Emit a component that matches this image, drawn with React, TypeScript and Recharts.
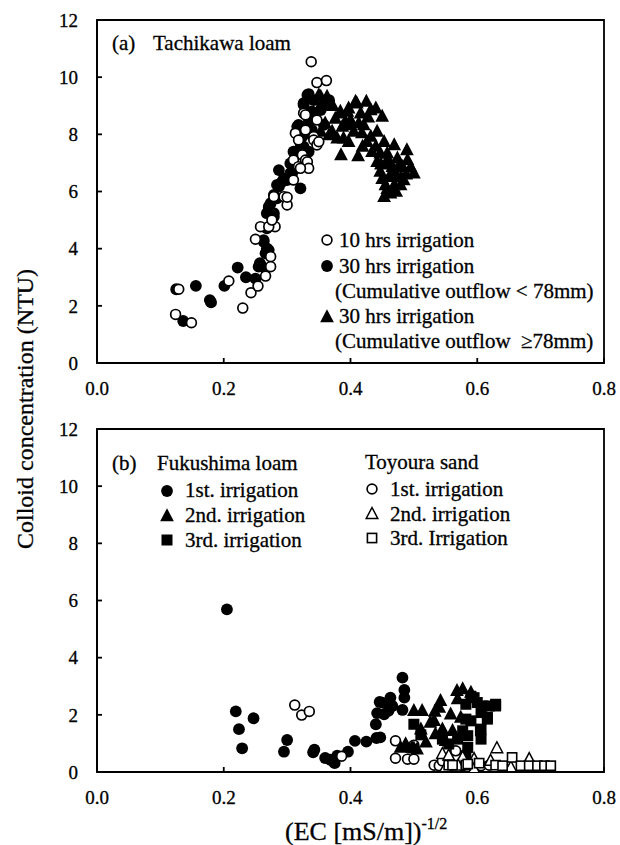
import React from 'react';
import { ScatterChart, Scatter, XAxis, YAxis, ReferenceArea } from 'recharts';

const xTicks = [0, 0.2, 0.4, 0.6, 0.8];
const yTicks = [0, 2, 4, 6, 8, 10, 12];

// Panel (a) Tachikawa loam
const tachikawa10h: number[][] = [
  [0.124,1.70],[0.129,2.58],[0.149,1.41],[0.208,2.87],[0.230,1.92],[0.243,2.46],[0.254,2.69],[0.266,3.04],
  [0.250,4.33],[0.274,3.72],[0.274,3.37],[0.258,4.77],[0.281,4.77],[0.271,4.77],[0.276,5.00],[0.279,5.82],
  [0.295,5.82],[0.300,5.53],[0.310,6.40],[0.310,7.10],[0.318,6.87],[0.324,7.28],[0.329,7.10],[0.332,7.04],
  [0.334,6.81],[0.321,6.81],[0.313,8.04],[0.318,7.80],[0.329,8.15],[0.342,7.92],[0.342,7.80],[0.347,7.63],
  [0.326,8.74],[0.329,8.68],[0.338,10.54],[0.347,9.81],[0.362,9.88],[0.347,8.50],[0.350,7.74],[0.300,5.80],
];
const tachikawa30hLow: number[][] = [
  [0.125,2.58],[0.136,1.47],[0.156,2.70],[0.178,2.20],[0.180,2.12],[0.201,2.70],[0.222,3.34],[0.235,3.00],
  [0.250,2.95],[0.255,3.37],[0.257,3.49],[0.263,4.30],[0.268,4.01],[0.266,3.84],[0.271,3.95],[0.263,4.24],
  [0.268,4.71],[0.268,5.24],[0.271,5.47],[0.279,5.24],[0.279,5.12],[0.274,5.59],[0.271,5.35],[0.284,5.76],
  [0.279,5.88],[0.284,6.23],[0.287,6.17],[0.292,6.34],[0.287,6.75],[0.295,6.46],[0.300,6.40],[0.305,6.64],
  [0.308,6.64],[0.310,6.87],[0.305,6.98],[0.321,6.11],[0.310,7.39],[0.316,7.39],[0.329,7.34],[0.326,7.57],
  [0.334,7.39],[0.321,7.69],[0.316,8.27],[0.318,8.33],[0.324,7.92],[0.326,8.04],[0.339,7.98],[0.339,8.15],
  [0.334,8.39],[0.358,8.33],[0.326,9.03],[0.326,9.09],[0.332,9.38],[0.334,9.41],[0.342,9.20],[0.339,8.80],
  [0.334,8.56],[0.355,8.97],[0.366,9.15],[0.366,9.20],[0.353,8.85],[0.266,3.30],[0.258,3.43],
];
const tachikawa30hHigh: number[][] = [
  [0.350,9.38],[0.363,9.32],[0.353,9.32],[0.368,9.09],[0.410,9.09],[0.425,9.15],[0.440,8.91],[0.450,8.62],
  [0.432,8.85],[0.416,8.74],[0.397,8.91],[0.384,8.74],[0.384,8.80],[0.395,8.80],[0.408,9.15],[0.400,8.50],
  [0.387,8.27],[0.405,8.10],[0.421,8.33],[0.413,8.39],[0.371,8.10],[0.360,8.39],[0.353,8.10],[0.366,7.98],
  [0.379,7.86],[0.400,8.33],[0.389,7.86],[0.397,7.74],[0.432,7.92],[0.442,8.10],[0.426,7.74],[0.419,7.57],
  [0.440,7.57],[0.453,7.74],[0.469,7.63],[0.489,7.45],[0.447,7.34],[0.434,7.39],[0.385,7.28],[0.412,7.24],
  [0.458,7.34],[0.474,7.16],[0.490,7.10],[0.442,7.04],[0.455,6.98],[0.466,6.87],[0.482,6.87],[0.500,6.64],
  [0.447,6.70],[0.461,6.52],[0.474,6.52],[0.484,6.40],[0.455,6.23],[0.469,6.23],[0.479,6.23],[0.463,5.94],
  [0.453,5.82],[0.450,6.45],[0.458,6.10],[0.470,6.70],[0.476,6.90],[0.460,7.10],[0.448,6.95],[0.488,6.60],
  [0.495,6.85],[0.472,6.00],[0.480,6.50],[0.376,8.55],[0.392,8.45],[0.418,8.05],[0.428,8.60],[0.372,9.00],
];

// Panel (b) Fukushima loam / Toyoura sand
const fukushima1st: number[][] = [
  [0.205,5.69],[0.219,2.12],[0.224,1.50],[0.229,0.83],[0.247,1.88],[0.300,1.12],[0.295,0.71],[0.341,0.69],
  [0.343,0.78],[0.360,0.49],[0.368,0.43],[0.375,0.31],[0.379,0.57],[0.396,0.71],[0.407,1.09],[0.425,1.06],
  [0.441,1.19],[0.440,1.67],[0.442,2.06],[0.446,2.45],[0.450,2.43],[0.453,2.02],[0.460,2.14],[0.463,2.60],
  [0.466,2.31],[0.482,3.30],[0.485,2.87],[0.485,2.60],[0.482,2.17],[0.447,1.21],
];
const fukushima2nd: number[][] = [
  [0.479,0.86],[0.487,0.98],[0.500,0.83],[0.497,0.86],[0.505,0.80],[0.500,2.14],[0.513,2.14],[0.542,2.49],
  [0.533,2.12],[0.526,1.73],[0.511,1.50],[0.519,1.04],[0.534,1.33],[0.545,1.50],[0.558,2.02],[0.561,1.44],
  [0.550,1.09],[0.568,2.84],[0.577,2.90],[0.590,2.78],[0.574,1.91],[0.532,1.79],[0.540,2.26],[0.569,2.55],
  [0.487,0.92],
];
const fukushima3rd: number[][] = [
  [0.500,1.67],[0.511,1.30],[0.545,1.15],[0.555,0.98],[0.582,2.37],[0.582,1.85],[0.585,1.27],[0.582,0.57],
  [0.600,2.43],[0.608,2.31],[0.619,2.31],[0.629,2.31],[0.606,2.08],[0.616,1.85],[0.606,1.50],[0.606,1.15],
  [0.590,1.79],[0.585,0.86],[0.569,1.15],[0.577,1.44],[0.629,2.37],[0.616,1.91],[0.605,1.44],[0.595,2.60],
  [0.590,2.65],
];
const toyoura1st: number[][] = [
  [0.312,2.34],[0.323,1.99],[0.335,2.12],[0.386,0.55],[0.471,1.09],[0.500,0.94],[0.471,0.48],[0.490,0.45],
  [0.500,0.45],[0.566,0.74],[0.532,0.24],[0.540,0.22],[0.545,0.39],[0.558,0.24],[0.577,0.22],[0.606,0.22],
  [0.619,0.24],[0.590,0.30],
];
const toyoura2nd: number[][] = [
  [0.631,0.83],[0.545,0.63],[0.595,0.45],[0.577,0.51],[0.555,0.57],[0.550,0.16],[0.595,0.10],[0.621,0.39],
  [0.653,0.16],[0.682,0.45],[0.570,0.22],
];
const toyoura3rd: number[][] = [
  [0.555,0.24],[0.561,0.24],[0.582,0.24],[0.585,0.28],[0.603,0.31],[0.629,0.24],[0.655,0.51],[0.669,0.22],
  [0.682,0.22],[0.695,0.22],[0.706,0.22],[0.716,0.22],[0.640,0.22],
];

const pts = (a: number[][]) => a.map(([x, y]) => ({ x, y }));

const FONT = "'Liberation Serif', 'Times New Roman', serif";

const FilledCircle = (p: any) => <circle cx={p.cx} cy={p.cy} r={5.9} fill="#000" />;
const OpenCircle = (p: any) => <circle cx={p.cx} cy={p.cy} r={4.9} fill="#fff" stroke="#000" strokeWidth={1.7} />;
const triPts = (cx: number, cy: number, s: number) =>
  `${cx},${cy - s * 0.62} ${cx - s * 0.55},${cy + s * 0.42} ${cx + s * 0.55},${cy + s * 0.42}`;
const FilledTriangle = (p: any) => <polygon points={triPts(p.cx, p.cy, 12.5)} fill="#000" />;
const OpenTriangle = (p: any) => (
  <polygon points={triPts(p.cx, p.cy, 10.5)} fill="#fff" stroke="#000" strokeWidth={1.5} />
);
const FilledSquare = (p: any) => <rect x={p.cx - 5.5} y={p.cy - 5.5} width={11} height={11} fill="#000" />;
const OpenSquare = (p: any) => (
  <rect x={p.cx - 4.6} y={p.cy - 4.6} width={9.2} height={9.2} fill="#fff" stroke="#000" strokeWidth={1.6} />
);

const axisStroke = { stroke: '#000', strokeWidth: 1.8 };
const tickStyle = { fill: '#000', fontSize: 19, fontFamily: FONT, stroke: '#000', strokeWidth: 0.3 };

function Panel({ children }: { children: React.ReactNode }) {
  return (
    <ScatterChart width={620} height={410} margin={{ top: 20, right: 16, bottom: 7, left: 37 }}>
      <XAxis
        type="number"
        dataKey="x"
        domain={[0, 0.8]}
        ticks={xTicks}
        tickFormatter={(v: number) => v.toFixed(1)}
        height={40}
        tickSize={-5}
        tickMargin={24}
        axisLine={axisStroke}
        tickLine={axisStroke}
        tick={tickStyle}
        allowDataOverflow
      />
      <YAxis
        type="number"
        dataKey="y"
        domain={[0, 12]}
        ticks={yTicks}
        width={60}
        tickSize={-5}
        tickMargin={24}
        axisLine={axisStroke}
        tickLine={axisStroke}
        tick={tickStyle}
        allowDataOverflow
      />
      <ReferenceArea x1={0} x2={0.8} y1={0} y2={12} fill="none" stroke="#000" strokeWidth={1.8} />
      {children}
    </ScatterChart>
  );
}

const txt = { fontFamily: FONT, fontSize: 21, fill: '#000', stroke: '#000', strokeWidth: 0.3 } as const;
const title = { fontFamily: FONT, fontSize: 24, fill: '#000', stroke: '#000', strokeWidth: 0.3 } as const;

export default function App() {
  return (
    <div style={{ position: 'absolute', left: 0, top: 0, width: 620, height: 845, background: '#fff' }}>
      <div style={{ position: 'absolute', left: 0, top: 0 }}>
        <Panel>
          <Scatter data={pts(tachikawa30hLow)} shape={FilledCircle} isAnimationActive={false} />
          <Scatter data={pts(tachikawa30hHigh)} shape={FilledTriangle} isAnimationActive={false} />
          <Scatter data={pts(tachikawa10h)} shape={OpenCircle} isAnimationActive={false} />
        </Panel>
      </div>
      <div style={{ position: 'absolute', left: 0, top: 409 }}>
        <Panel>
          <Scatter data={pts(fukushima1st)} shape={FilledCircle} isAnimationActive={false} />
          <Scatter data={pts(toyoura1st)} shape={OpenCircle} isAnimationActive={false} />
          <Scatter data={pts(fukushima2nd)} shape={FilledTriangle} isAnimationActive={false} />
          <Scatter data={pts(fukushima3rd)} shape={FilledSquare} isAnimationActive={false} />
          <Scatter data={pts(toyoura2nd)} shape={OpenTriangle} isAnimationActive={false} />
          <Scatter data={pts(toyoura3rd)} shape={OpenSquare} isAnimationActive={false} />
        </Panel>
      </div>
      <svg
        width={620}
        height={845}
        style={{ position: 'absolute', left: 0, top: 0, pointerEvents: 'none' }}
      >
        {/* axis titles */}
        <text transform="rotate(-90)" x={-409} y={33} textAnchor="middle" style={title}>
          Colloid concentration (NTU)
        </text>
        <text x={285} y={840} style={{ ...title, fontSize: 26 }}>
          (EC [mS/m])
          <tspan dy={-11} style={{ fontSize: 16 }}>-1/2</tspan>
        </text>

        {/* panel (a) annotations */}
        <text x={112} y={50} style={txt}>(a)</text>
        <text x={153} y={50} style={txt}>Tachikawa loam</text>
        <circle cx={327} cy={240} r={4.9} fill="#fff" stroke="#000" strokeWidth={1.7} />
        <text x={339} y={247} style={txt}>10 hrs irrigation</text>
        <circle cx={327} cy={266} r={5.9} fill="#000" />
        <text x={339} y={273} style={txt}>30 hrs irrigation</text>
        <text x={335} y={298} style={txt}>(Cumulative outflow &lt; 78mm)</text>
        <polygon points={triPts(327, 317, 12.5)} fill="#000" />
        <text x={339} y={323} style={txt}>30 hrs irrigation</text>
        <text x={335} y={348} style={txt}>(Cumulative outflow {'\u00A0'}≥78mm)</text>

        {/* panel (b) annotations */}
        <text x={112} y={470} style={txt}>(b)</text>
        <text x={157} y={470} style={txt}>Fukushima loam</text>
        <circle cx={167} cy={491} r={5.9} fill="#000" />
        <text x={185} y={497} style={txt}>1st. irrigation</text>
        <polygon points={triPts(167, 516, 12.5)} fill="#000" />
        <text x={185} y={522} style={txt}>2nd. irrigation</text>
        <rect x={161.5} y={534.5} width={11} height={11} fill="#000" />
        <text x={185} y={547} style={txt}>3rd. irrigation</text>

        <text x={365} y={469} style={txt}>Toyoura sand</text>
        <circle cx={372} cy={489} r={4.9} fill="#fff" stroke="#000" strokeWidth={1.7} />
        <text x={390} y={496} style={txt}>1st. irrigation</text>
        <polygon points={triPts(372, 514, 10.5)} fill="#fff" stroke="#000" strokeWidth={1.5} />
        <text x={390} y={521} style={txt}>2nd. irrigation</text>
        <rect x={367.4} y={533.4} width={9.2} height={9.2} fill="#fff" stroke="#000" strokeWidth={1.6} />
        <text x={390} y={545} style={txt}>3rd. Irrigation</text>
      </svg>
    </div>
  );
}
